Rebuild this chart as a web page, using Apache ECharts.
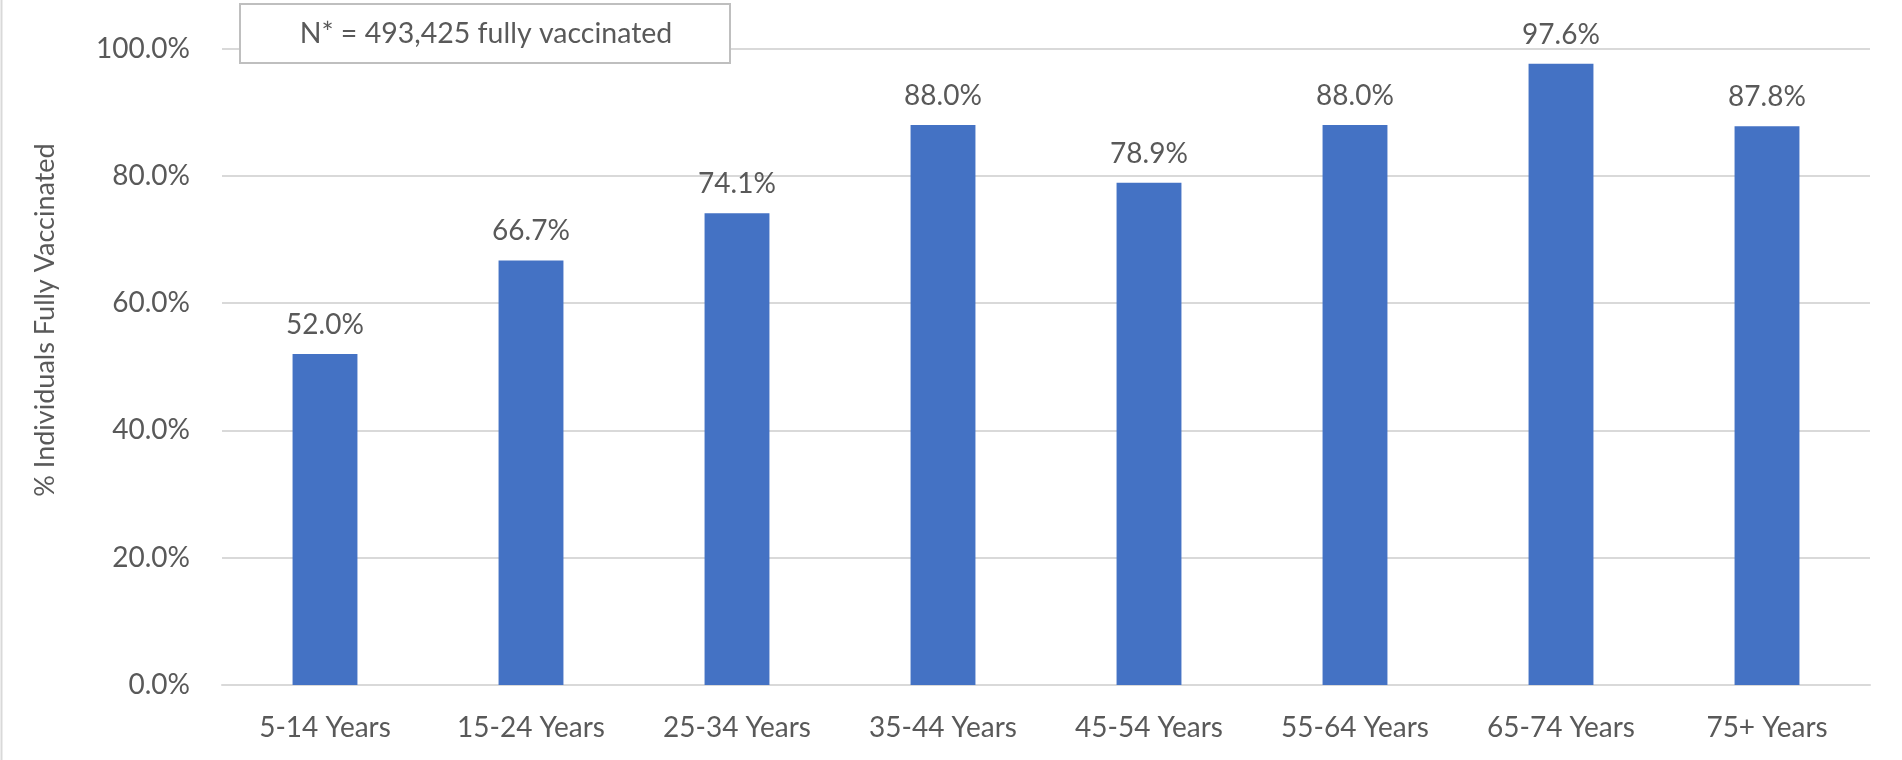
<!DOCTYPE html>
<html>
<head>
<meta charset="utf-8">
<script src="https://cdn.jsdelivr.net/npm/echarts@6/dist/echarts.min.js"></script>
<style>
  html, body { margin: 0; padding: 0; background: #fff; }
  #chart { width: 1902px; height: 760px; }
</style>
</head>
<body>
<div id="chart"></div>
<script>
const categories = ['5-14 Years', '15-24 Years', '25-34 Years', '35-44 Years', '45-54 Years', '55-64 Years', '65-74 Years', '75+ Years'];
const pctFullyVaccinated = [52.0, 66.7, 74.1, 88.0, 78.9, 88.0, 97.6, 87.8];
const yTicks = [0, 20, 40, 60, 80, 100];
const yAxisTitle = '% Individuals Fully Vaccinated';
const annotation = 'N* = 493,425 fully vaccinated';

const FONT = 'Lato';
const TEXT = '#595959';

const chart = echarts.init(document.getElementById('chart'), null, { renderer: 'canvas' });
chart.setOption({
  animation: false,
  backgroundColor: '#ffffff',
  grid: { left: 222, right: 32, top: 48.5, bottom: 75, containLabel: false },
  xAxis: {
    type: 'category',
    data: categories,
    axisLine: { lineStyle: { color: '#D9D9D9', width: 2 } },
    axisTick: { show: false },
    axisLabel: { color: TEXT, fontFamily: FONT, fontSize: 28, margin: 29 }
  },
  yAxis: {
    type: 'value',
    min: yTicks[0],
    max: yTicks[yTicks.length - 1],
    interval: 20,
    axisLine: { show: false },
    axisTick: { show: false },
    splitLine: { lineStyle: { color: '#D9D9D9', width: 2 } },
    axisLabel: {
      color: TEXT, fontFamily: FONT, fontSize: 28, margin: 32,
      formatter: v => v.toFixed(1) + '%'
    }
  },
  series: [{
    type: 'bar',
    data: pctFullyVaccinated,
    barWidth: '31.5%',
    itemStyle: { color: '#4472C4' },
    label: {
      show: true, position: 'top', distance: 15,
      color: TEXT, fontFamily: FONT, fontSize: 28,
      formatter: p => p.value.toFixed(1) + '%'
    }
  }],
  graphic: [
    { type: 'line', shape: { x1: 1.5, y1: 0, x2: 1.5, y2: 760 }, style: { stroke: '#D9D9D9', lineWidth: 2 }, silent: true },
    { type: 'rect', shape: { x: 240, y: 4, width: 490, height: 59 }, style: { fill: '#ffffff', stroke: '#BFBFBF', lineWidth: 2 }, z: 10 },
    { type: 'text', x: 486, y: 33.5, z: 11,
      style: { text: annotation, fill: TEXT, font: '28.5px ' + FONT, align: 'center', verticalAlign: 'middle' } },
    { type: 'text', x: 45, y: 320, rotation: Math.PI / 2, z: 11,
      style: { text: yAxisTitle, fill: TEXT, font: '27px ' + FONT, align: 'center', verticalAlign: 'middle' } }
  ]
});
</script>
</body>
</html>
